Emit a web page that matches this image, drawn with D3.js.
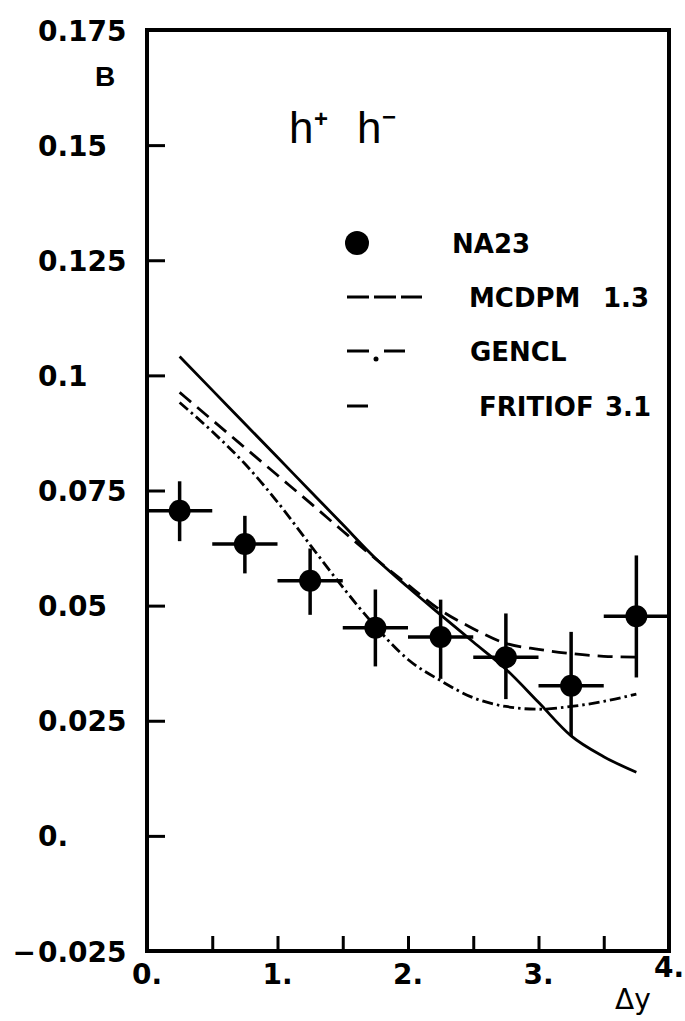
<!DOCTYPE html>
<html>
<head>
<meta charset="utf-8">
<script src="https://cdn.jsdelivr.net/npm/d3@7"></script>
<style>
  html, body { margin: 0; padding: 0; background: #fff; }
  svg { display: block; font-family: "DejaVu Sans", sans-serif; }
</style>
</head>
<body>
<svg id="chart" width="685" height="1021"></svg>
<script>
// NA23 data points (bin centres, values, error bar ends)
const binCenters = [0.25, 0.75, 1.25, 1.75, 2.25, 2.75, 3.25, 3.75];
const na23 = [0.0706, 0.0634, 0.0554, 0.0452, 0.0432, 0.0388, 0.0326, 0.0477];
const errLow = [0.0640, 0.0570, 0.0480, 0.0368, 0.0341, 0.0297, 0.0217, 0.0344];
const errHigh = [0.0770, 0.0695, 0.0624, 0.0535, 0.0513, 0.0483, 0.0443, 0.0609];
const binHalfWidth = 0.25;

// model curves
const curveX = [0.25, 0.5, 0.75, 1.0, 1.25, 1.5, 1.75, 2.0, 2.25, 2.5, 2.75, 3.0, 3.25, 3.5, 3.75];
const mcdpm = [0.0963, 0.0903, 0.0843, 0.0783, 0.0723, 0.0662, 0.0602, 0.0545, 0.0490, 0.0450, 0.0418, 0.0405, 0.0396, 0.0390, 0.0388];
const gencl = [0.0941, 0.0878, 0.0808, 0.0725, 0.0632, 0.0540, 0.0455, 0.0383, 0.0337, 0.0300, 0.0281, 0.0275, 0.0281, 0.0292, 0.0308];
const fritiof = [0.1041, 0.0968, 0.0895, 0.0822, 0.0749, 0.0676, 0.0603, 0.0540, 0.0480, 0.0421, 0.0362, 0.0290, 0.0217, 0.0172, 0.0138];

// axes
const yTicks = [0.175, 0.15, 0.125, 0.1, 0.075, 0.05, 0.025, 0, -0.025];
const yTickLabels = ["0.175", "0.15", "0.125", "0.1", "0.075", "0.05", "0.025", "0.", "0.025"];
const xMinorTicks = [0.5, 1, 1.5, 2, 2.5, 3, 3.5];
const xLabelValues = [0, 1, 2, 3, 4];
const xTickLabels = ["0.", "1.", "2.", "3.", "4."];

const legendItems = ["NA23", "MCDPM", "GENCL", "FRITIOF"];
const legendVersions = ["", "1.3", "", "3.1"];

const svg = d3.select("#chart");
const plotLeft = 147, plotRight = 669, plotTop = 30, plotBottom = 951;

const x = d3.scaleLinear().domain([0, 4]).range([plotLeft, plotRight]);
const y = d3.scaleLinear().domain([-0.025, 0.175]).range([plotBottom, plotTop]);

// y axis: inward ticks, left aligned labels
const yAxis = svg.append("g")
  .attr("transform", `translate(${plotLeft},0)`)
  .call(d3.axisLeft(y).tickValues(yTicks).tickSize(-18).tickSizeOuter(0)
    .tickFormat((d, i) => yTickLabels[i]));
yAxis.select(".domain").remove();
yAxis.selectAll(".tick line").attr("stroke", "#000").attr("stroke-width", 3);
yAxis.selectAll(".tick text")
  .attr("text-anchor", "start")
  .attr("x", 38 - plotLeft)
  .attr("dy", "0.36em")
  .attr("font-size", 28)
  .attr("font-weight", "bold")
  .attr("font-family", "DejaVu Sans")
  .attr("fill", "#000");
// minus sign for the negative label
yAxis.selectAll(".tick").filter(d => d < 0).append("text")
  .attr("text-anchor", "end")
  .attr("x", 36 - plotLeft)
  .attr("dy", "0.36em")
  .attr("font-size", 28)
  .attr("font-weight", "bold")
  .attr("font-family", "DejaVu Sans")
  .attr("fill", "#000")
  .text("\u2212");

// x axis ticks (no labels)
const xAxis = svg.append("g")
  .attr("transform", `translate(0,${plotBottom})`)
  .call(d3.axisBottom(x).tickValues(xMinorTicks).tickSize(-15).tickSizeOuter(0).tickFormat(""));
xAxis.select(".domain").remove();
xAxis.selectAll(".tick line").attr("stroke", "#000").attr("stroke-width", 3);

svg.append("g").selectAll("text")
  .data(xLabelValues)
  .join("text")
  .attr("x", d => x(d))
  .attr("y", (d, i) => i === xLabelValues.length - 1 ? 977 : 984)
  .attr("text-anchor", "middle")
  .attr("font-size", 28)
  .attr("font-weight", "bold")
  .text((d, i) => xTickLabels[i]);

// frame
svg.append("rect")
  .attr("x", plotLeft).attr("y", plotTop)
  .attr("width", plotRight - plotLeft).attr("height", plotBottom - plotTop)
  .attr("fill", "none")
  .attr("stroke", "#000")
  .attr("stroke-width", 4);

// axis titles
svg.append("text").attr("x", 105).attr("y", 86)
  .attr("text-anchor", "middle").attr("font-size", 28).attr("font-weight", "bold")
  .attr("font-family", "Liberation Sans, Arial, sans-serif")
  .text("B");
svg.append("text").attr("x", 615).attr("y", 1009)
  .attr("font-size", 28)
  .text("\u0394y");

// h+ h- label
const hl = svg.append("g").attr("font-family", "Liberation Sans, Arial, sans-serif");
hl.append("text").attr("x", 289).attr("y", 143).attr("font-size", 44).text("h");
hl.append("text").attr("x", 321).attr("y", 127).attr("font-size", 24).attr("font-weight", "bold")
  .attr("text-anchor", "middle").text("+");
hl.append("text").attr("x", 357).attr("y", 143).attr("font-size", 44).text("h");
hl.append("text").attr("x", 389).attr("y", 125).attr("font-size", 24).attr("font-weight", "bold")
  .attr("text-anchor", "middle").text("\u2212");

// model curves
const line = d3.line().curve(d3.curveMonotoneX).x(d => x(d[0])).y(d => y(d[1]));
const curves = [
  { vals: mcdpm, dash: "15,8" },
  { vals: gencl, dash: "11,4,2.5,4" },
  { vals: fritiof, dash: null }
];
svg.append("g").selectAll("path")
  .data(curves)
  .join("path")
  .attr("d", c => line(curveX.map((v, i) => [v, c.vals[i]])))
  .attr("fill", "none")
  .attr("stroke", "#000")
  .attr("stroke-width", 2.8)
  .attr("stroke-dasharray", c => c.dash);

// NA23 points with error bars
const pts = svg.append("g");
pts.selectAll(".ebx")
  .data(binCenters)
  .join("line")
  .attr("class", "ebx")
  .attr("x1", d => x(d - binHalfWidth))
  .attr("x2", d => x(d + binHalfWidth))
  .attr("y1", (d, i) => y(na23[i]))
  .attr("y2", (d, i) => y(na23[i]))
  .attr("stroke", "#000").attr("stroke-width", 3.5);
pts.selectAll(".eby")
  .data(binCenters)
  .join("line")
  .attr("class", "eby")
  .attr("x1", d => x(d))
  .attr("x2", d => x(d))
  .attr("y1", (d, i) => y(errLow[i]))
  .attr("y2", (d, i) => y(errHigh[i]))
  .attr("stroke", "#000").attr("stroke-width", 3.5);
pts.selectAll("circle")
  .data(binCenters)
  .join("circle")
  .attr("cx", d => x(d))
  .attr("cy", (d, i) => y(na23[i]))
  .attr("r", 11)
  .attr("fill", "#000");

// legend
const lg = svg.append("g").attr("font-size", 26).attr("font-weight", "bold");
lg.append("circle").attr("cx", 357).attr("cy", 243).attr("r", 12).attr("fill", "#000");
lg.append("line").attr("x1", 347).attr("x2", 422).attr("y1", 297).attr("y2", 297)
  .attr("stroke", "#000").attr("stroke-width", 3).attr("stroke-dasharray", "22,5");
lg.append("line").attr("x1", 347).attr("x2", 369).attr("y1", 351).attr("y2", 351)
  .attr("stroke", "#000").attr("stroke-width", 3);
lg.append("circle").attr("cx", 376).attr("cy", 359).attr("r", 2.5).attr("fill", "#000");
lg.append("line").attr("x1", 384).attr("x2", 405).attr("y1", 351).attr("y2", 351)
  .attr("stroke", "#000").attr("stroke-width", 3);
lg.append("line").attr("x1", 347).attr("x2", 368).attr("y1", 406).attr("y2", 406)
  .attr("stroke", "#000").attr("stroke-width", 3);

const labelX = [452, 469, 470, 479];
const labelY = [253, 307, 361, 416];
const versionX = [0, 603, 0, 605];
legendItems.forEach((name, i) => {
  lg.append("text").attr("x", labelX[i]).attr("y", labelY[i]).text(name);
  if (legendVersions[i]) {
    lg.append("text").attr("x", versionX[i]).attr("y", labelY[i]).text(legendVersions[i]);
  }
});
</script>
</body>
</html>
